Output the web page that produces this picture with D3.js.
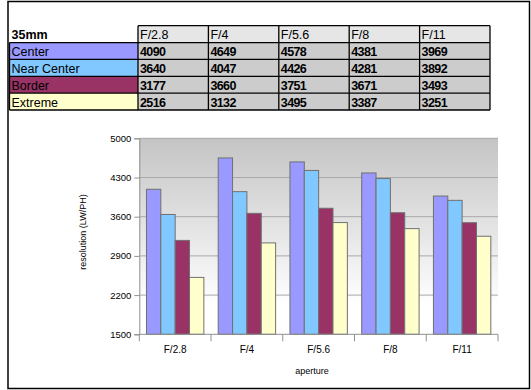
<!DOCTYPE html>
<html><head><meta charset="utf-8">
<script src="https://cdn.jsdelivr.net/npm/d3@7"></script>
<style>body{margin:0;background:#fff}svg{display:block}text{font-family:"Liberation Sans",Arial,sans-serif}</style>
</head><body><svg id="c" width="531" height="390"></svg>
<script>
const categories = ["F/2.8","F/4","F/5.6","F/8","F/11"];
const seriesNames = ["Center","Near Center","Border","Extreme"];
const seriesColors = ["#9999ff","#80c8ff","#993366","#ffffcc"];
const center = [4090,4649,4578,4381,3969];
const nearCenter = [3640,4047,4426,4281,3892];
const border = [3177,3660,3751,3671,3493];
const extreme = [2516,3132,3495,3387,3251];
const yTicks = [1500,2200,2900,3600,4300,5000];
const tableTitle = "35mm";
const values = [center, nearCenter, border, extreme];

const svg = d3.select("#c");
// outer frame
svg.append("rect").attr("x",8).attr("y",1.5).attr("width",521.5).attr("height",387)
  .attr("fill","none").attr("stroke","#000").attr("stroke-width",1.5);

// ---- table ----
const colX = d3.scaleBand().domain(categories).range([138,490]);
const labelX0 = 9.5, labelX1 = 138;
const rowY = d3.scaleBand().domain(["head"].concat(seriesNames)).range([25.7,110]);
const tg = svg.append("g");
// header cells
categories.forEach(c=>{
  tg.append("rect").attr("x",colX(c)).attr("y",rowY("head")).attr("width",colX.bandwidth()).attr("height",rowY.bandwidth())
    .attr("fill","#e6e6e6");
  tg.append("text").attr("x",colX(c)+2).attr("y",rowY("head")+rowY.bandwidth()-3.5)
    .attr("font-size",12.5).text(c);
});
tg.append("text").attr("x",labelX0+2).attr("y",rowY("head")+rowY.bandwidth()-3.5)
  .attr("font-size",12.5).attr("font-weight","bold").text(tableTitle);
seriesNames.forEach((s,i)=>{
  const y = rowY(s), h = rowY.bandwidth();
  tg.append("rect").attr("x",labelX0).attr("y",y).attr("width",labelX1-labelX0).attr("height",h).attr("fill",seriesColors[i]);
  tg.append("text").attr("x",labelX0+2).attr("y",y+h-3.5).attr("font-size",12.5).text(s);
  categories.forEach((c,j)=>{
    tg.append("rect").attr("x",colX(c)).attr("y",y).attr("width",colX.bandwidth()).attr("height",h).attr("fill","#cccccc");
    tg.append("text").attr("x",colX(c)+2).attr("y",y+h-3.5).attr("font-size",12.5).attr("font-weight","bold")
      .attr("letter-spacing","-0.6").text(values[i][j]);
  });
});
// grid lines of table
const lw = 1.3;
const hl = (x1,x2,y)=>tg.append("line").attr("x1",x1).attr("x2",x2).attr("y1",y).attr("y2",y).attr("stroke","#000").attr("stroke-width",lw);
const vl = (x,y1,y2)=>tg.append("line").attr("x1",x).attr("x2",x).attr("y1",y1).attr("y2",y2).attr("stroke","#000").attr("stroke-width",lw);
hl(labelX1, 490, rowY("head"));
seriesNames.forEach(s=>hl(labelX0, 490, rowY(s)));
hl(labelX0, 490, 110);
vl(labelX0, rowY("Center"), 110);
categories.forEach(c=>vl(colX(c), rowY("head"), 110));
vl(490, rowY("head"), 110);

// ---- chart ----
const L=139.3, R=498, T=138.3, B=334.3;
const y = d3.scaleLinear().domain([1500,5000]).range([B,T]);
const x0 = d3.scaleBand().domain(categories).range([L,R]).paddingInner(0).paddingOuter(0);
const x1 = d3.scaleBand().domain(seriesNames).range([0,x0.bandwidth()]).paddingInner(0).paddingOuter(0.5);

const defs = svg.append("defs");
const gr = defs.append("linearGradient").attr("id","bg").attr("x1",0).attr("x2",0).attr("y1",0).attr("y2",1);
gr.append("stop").attr("offset","0%").attr("stop-color","#c4c4c4");
gr.append("stop").attr("offset","85%").attr("stop-color","#ffffff");
gr.append("stop").attr("offset","100%").attr("stop-color","#ffffff");
svg.append("rect").attr("x",L).attr("y",T).attr("width",R-L).attr("height",B-T).attr("fill","url(#bg)");

// gridlines
svg.append("g").selectAll("line").data(yTicks.filter(v=>v>1500)).join("line")
  .attr("x1",L).attr("x2",R).attr("y1",d=>y(d)).attr("y2",d=>y(d))
  .attr("stroke","#a8a8a8").attr("stroke-width",1);

// bars
const groups = svg.append("g").selectAll("g").data(categories).join("g")
  .attr("transform",c=>`translate(${x0(c)},0)`);
groups.selectAll("rect").data((c,j)=>seriesNames.map((s,i)=>({s,i,v:values[i][j]}))).join("rect")
  .attr("x",d=>x1(d.s)).attr("width",x1.bandwidth())
  .attr("y",d=>y(d.v)).attr("height",d=>B-y(d.v))
  .attr("fill",d=>seriesColors[d.i]).attr("stroke","#707070").attr("stroke-width",1);

// y axis
const yAxis = d3.axisLeft(y).tickValues(yTicks).tickSize(5).tickPadding(3).tickFormat(d3.format("d"));
const ya = svg.append("g").attr("transform",`translate(${L},0)`).call(yAxis);
ya.select(".domain").attr("stroke","#909090");
ya.selectAll(".tick line").attr("stroke","#909090");
ya.selectAll("text").attr("font-size",9.5).attr("fill","#000").style("font-family",'"Liberation Sans",Arial,sans-serif');

// x axis
const xa = svg.append("g").attr("transform",`translate(0,${B})`);
xa.append("line").attr("x1",L).attr("x2",R).attr("y1",0).attr("y2",0).attr("stroke","#909090");
xa.selectAll("line.t").data(categories.map(c=>x0(c)).concat([R])).join("line").attr("class","t")
  .attr("x1",d=>d).attr("x2",d=>d).attr("y1",0).attr("y2",7).attr("stroke","#909090");
xa.selectAll("text").data(categories).join("text")
  .attr("x",c=>x0(c)+x0.bandwidth()/2).attr("y",19).attr("text-anchor","middle")
  .attr("font-size",10).text(c=>c);

svg.append("text").attr("x",312).attr("y",374).attr("text-anchor","middle").attr("font-size",9).text("aperture");
svg.append("text").attr("transform","translate(86,232) rotate(-90)").attr("text-anchor","middle")
  .attr("font-size",9).text("resolution (LW/PH)");
</script></body></html>
